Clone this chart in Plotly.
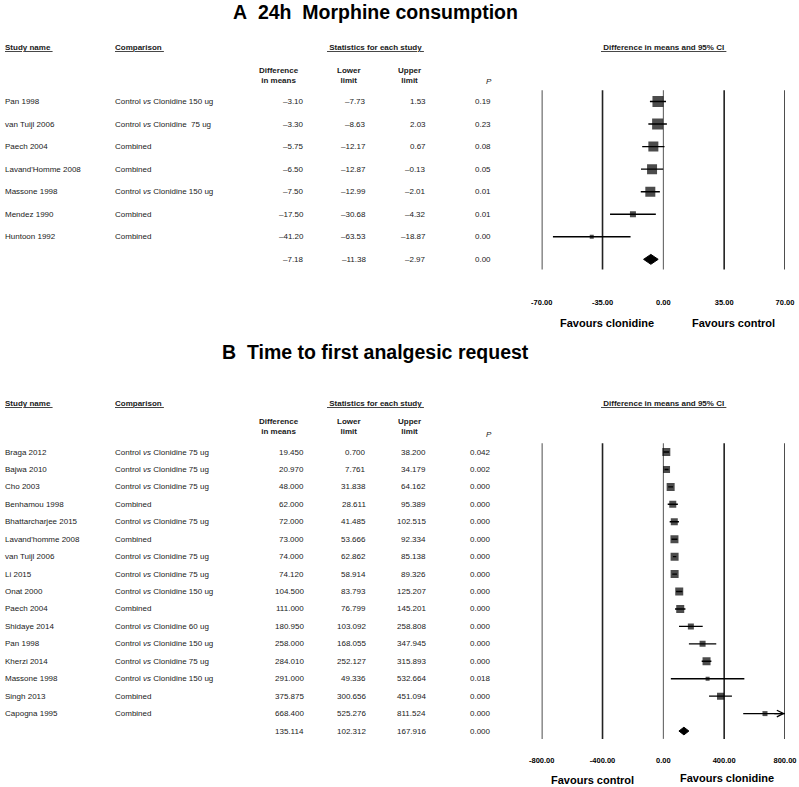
import plotly.graph_objects as go

# ---------------- data ----------------
A_studies = ["Pan 1998", "van Tuijl 2006", "Paech 2004", "Lavand'Homme 2008",
             "Massone 1998", "Mendez 1990", "Huntoon 1992"]
A_comparison = ["Control <i>vs</i> Clonidine 150 ug", "Control <i>vs</i> Clonidine&nbsp; 75 ug",
                "Combined", "Combined", "Control <i>vs</i> Clonidine 150 ug", "Combined", "Combined"]
A_diff = [-3.10, -3.30, -5.75, -6.50, -7.50, -17.50, -41.20]
A_lower = [-7.73, -8.63, -12.17, -12.87, -12.99, -30.68, -63.53]
A_upper = [1.53, 2.03, 0.67, -0.13, -2.01, -4.32, -18.87]
A_p = [0.19, 0.23, 0.08, 0.05, 0.01, 0.01, 0.00]
A_summary = [-7.18, -11.38, -2.97, 0.00]   # diff, lower, upper, p
A_ticks = [-70, -35, 0, 35, 70]
A_ticktext = ["-70.00", "-35.00", "0.00", "35.00", "70.00"]

B_studies = ["Braga 2012", "Bajwa 2010", "Cho 2003", "Benhamou 1998", "Bhattarcharjee 2015",
             "Lavand'homme 2008", "van Tuijl 2006", "Li 2015", "Onat 2000", "Paech 2004",
             "Shidaye 2014", "Pan 1998", "Kherzi 2014", "Massone 1998", "Singh 2013", "Capogna 1995"]
B_comparison = ["Control <i>vs</i> Clonidine 75 ug", "Control <i>vs</i> Clonidine 75 ug",
                "Control <i>vs</i> Clonidine 75 ug", "Combined",
                "Control <i>vs</i> Clonidine 75 ug", "Combined",
                "Control <i>vs</i> Clonidine 75 ug", "Control <i>vs</i> Clonidine 75 ug",
                "Control <i>vs</i> Clonidine 150 ug", "Combined",
                "Control <i>vs</i> Clonidine 60 ug", "Control <i>vs</i> Clonidine 150 ug",
                "Control <i>vs</i> Clonidine 75 ug", "Control <i>vs</i> Clonidine 150 ug",
                "Combined", "Combined"]
B_diff = [19.450, 20.970, 48.000, 62.000, 72.000, 73.000, 74.000, 74.120, 104.500, 111.000,
          180.950, 258.000, 284.010, 291.000, 375.875, 668.400]
B_lower = [0.700, 7.761, 31.838, 28.611, 41.485, 53.666, 62.862, 58.914, 83.793, 76.799,
           103.092, 168.055, 252.127, 49.336, 300.656, 525.276]
B_upper = [38.200, 34.179, 64.162, 95.389, 102.515, 92.334, 85.138, 89.326, 125.207, 145.201,
           258.808, 347.945, 315.893, 532.664, 451.094, 811.524]
B_p = [0.042, 0.002, 0.000, 0.000, 0.000, 0.000, 0.000, 0.000, 0.000, 0.000,
       0.000, 0.000, 0.000, 0.018, 0.000, 0.000]
B_summary = [135.114, 102.312, 167.916, 0.000]
B_ticks = [-800, -400, 0, 400, 800]
B_ticktext = ["-800.00", "-400.00", "0.00", "400.00", "800.00"]

# marker sizes (study weights, visual)
A_marker_px = [11, 11, 10, 10, 10, 6, 4]
B_marker_px = [8, 7, 8, 7, 7, 8, 8, 8, 8, 8, 6, 6, 8, 4, 7, 5]

# ---------------- layout helpers ----------------
W, H = 799, 787
FONT = "Liberation Sans, Arial, sans-serif"
TXT = "#1a1a1a"


def px(x):
    return x / W


def py(y):
    return 1 - y / H


def fmt(v, d):
    s = f"{abs(v):.{d}f}"
    return ("\u2013" + s) if v < 0 else s


fig = go.Figure()
ann = []
shapes = []


def panel(xa, ya, studies, comps, diff, low, up, p, summ, ticks,
          mpx, dec, pdec, hdr_y, sub_y, p_y, fav_left, fav_right, xmax):
    n = len(studies)
    xref, yref = xa, ya
    for t in ticks:
        shapes.append(dict(type="line", xref=xref, yref=yref, x0=t, x1=t, y0=-0.5, y1=n + 0.45,
                           line=dict(color="#555555" if t == 0 else "#222222",
                                     width=1 if t == 0 else 1.6), layer="below"))
    for i in range(n):
        hi = min(up[i], xmax)
        fig.add_trace(go.Scatter(x=[low[i], hi], y=[i, i], mode="lines",
                                 line=dict(color="black", width=1.4),
                                 xaxis=xa, yaxis=ya, hoverinfo="skip", showlegend=False))
        if up[i] > xmax:
            ann.append(dict(x=xmax, y=i, xref=xref, yref=yref, ax=xmax * 0.9, ay=i,
                            axref=xref, ayref=yref, text="", showarrow=True,
                            arrowhead=5, arrowsize=1.1, arrowwidth=1.2, arrowcolor="black"))
    fig.add_trace(go.Scatter(x=diff, y=list(range(n)), mode="markers",
                             marker=dict(symbol="square", size=mpx, color="black",
                                         line=dict(width=0)),
                             xaxis=xa, yaxis=ya, showlegend=False, hoverinfo="skip"))
    d, l, u, _ = summ
    fig.add_trace(go.Scatter(x=[l, d, u, d, l], y=[n, n - 0.22, n, n + 0.22, n],
                             mode="lines", fill="toself", fillcolor="black",
                             line=dict(color="black", width=1),
                             xaxis=xa, yaxis=ya, showlegend=False, hoverinfo="skip"))

    f8 = dict(family=FONT, size=8, color=TXT)
    rows = list(zip(studies, comps, diff, low, up, p))
    for i, (s, c, dv, lv, uv, pv) in enumerate(rows):
        ann.append(dict(x=px(3), y=i, xref="paper", yref=yref, text=s, showarrow=False,
                        xanchor="left", yanchor="middle", font=f8))
        ann.append(dict(x=px(113), y=i, xref="paper", yref=yref, text=c, showarrow=False,
                        xanchor="left", yanchor="middle", font=f8))
        for xx, val, dd in [(306, dv, dec), (368, lv, dec), (428, uv, dec), (493, pv, pdec)]:
            ann.append(dict(x=px(xx), y=i, xref="paper", yref=yref, text=fmt(val, dd),
                            showarrow=False, xanchor="right", yanchor="middle", font=f8))
    for xx, val, dd in [(306, summ[0], dec), (368, summ[1], dec), (428, summ[2], dec),
                        (493, summ[3], pdec)]:
        ann.append(dict(x=px(xx), y=n, xref="paper", yref=yref, text=fmt(val, dd),
                        showarrow=False, xanchor="right", yanchor="middle", font=f8))
    hdrs = [(3, "left", "<b><u>Study name&nbsp;</u></b>"),
            (113, "left", "<b><u>Comparison&nbsp;</u></b>"),
            (375, "center", "<b><u>&nbsp;Statistics for each study&nbsp;</u></b>"),
            (663, "center", "<b><u>&nbsp;Difference in means and 95% CI&nbsp;</u></b>")]
    for xx, anc, t in hdrs:
        ann.append(dict(x=px(xx), y=py(hdr_y), xref="paper", yref="paper", text=t,
                        showarrow=False, xanchor=anc, yanchor="middle", font=f8))
    for xx, t in [(279, "<b>Difference<br>in means</b>"), (349, "<b>Lower<br>limit</b>"),
                  (409, "<b>Upper<br>limit</b>")]:
        ann.append(dict(x=px(xx), y=py(sub_y), xref="paper", yref="paper", text=t,
                        showarrow=False, xanchor="center", yanchor="middle", font=f8))
    ann.append(dict(x=px(489), y=py(p_y), xref="paper", yref="paper", text="<i>P</i>",
                    showarrow=False, xanchor="center", yanchor="middle", font=f8))
    for xx, t, fy in [fav_left, fav_right]:
        ann.append(dict(x=px(xx), y=py(fy), xref="paper", yref="paper", text="<b>" + t + "</b>",
                        showarrow=False, xanchor="center", yanchor="middle",
                        font=dict(family=FONT, size=11, color="black")))


panel("x", "y", A_studies, A_comparison, A_diff, A_lower, A_upper, A_p, A_summary,
      A_ticks, A_marker_px, 2, 2, 48, 75, 81,
      (607, "Favours clonidine", 323), (733, "Favours control", 323), 70)
panel("x2", "y2", B_studies, B_comparison, B_diff, B_lower, B_upper, B_p, B_summary,
      B_ticks, B_marker_px, 3, 3, 403, 427, 434,
      (592, "Favours control", 780), (727, "Favours clonidine", 778), 800)

for t, yy in [("<b>A&nbsp; 24h&nbsp; Morphine consumption</b>", 12),
              ("<b>B&nbsp; Time to first analgesic request</b>", 352)]:
    ann.append(dict(x=px(375), y=py(yy), xref="paper", yref="paper", text=t, showarrow=False,
                    xanchor="center", yanchor="middle",
                    font=dict(family=FONT, size=19.5, color="black")))

A_row0, A_step = 101.5, 22.55
B_row0, B_step = 452.0, 17.44
split = 340

xdom = [px(541.7), px(785.0)]
tickfont = dict(family=FONT, size=7.5, color="black")
fig.update_layout(
    width=W, height=H, margin=dict(l=0, r=0, t=0, b=0, pad=0, autoexpand=False),
    autosize=False,
    paper_bgcolor="white", plot_bgcolor="rgba(0,0,0,0)",
    showlegend=False,
    xaxis=dict(domain=xdom, range=[A_ticks[0], A_ticks[-1]], anchor="free", position=py(296),
               tickvals=A_ticks, ticktext=["<b>%s</b>" % t for t in A_ticktext],
               showgrid=False, zeroline=False, showline=False, ticks="", tickfont=tickfont,
               automargin=False),
    yaxis=dict(domain=[py(split), 1], range=[(split - A_row0) / A_step, -A_row0 / A_step],
               visible=False, showgrid=False, zeroline=False, automargin=False),
    xaxis2=dict(domain=xdom, range=[B_ticks[0], B_ticks[-1]], anchor="free", position=py(754),
                tickvals=B_ticks, ticktext=["<b>%s</b>" % t for t in B_ticktext],
                showgrid=False, zeroline=False, showline=False, ticks="", tickfont=tickfont,
                automargin=False),
    yaxis2=dict(domain=[0, py(split)], range=[(H - B_row0) / B_step, (split - B_row0) / B_step],
                visible=False, showgrid=False, zeroline=False, automargin=False),
    annotations=ann, shapes=shapes,
)

fig.write_html("out.html", config={"displayModeBar": False},
               post_script="document.body.style.margin='0px';")
